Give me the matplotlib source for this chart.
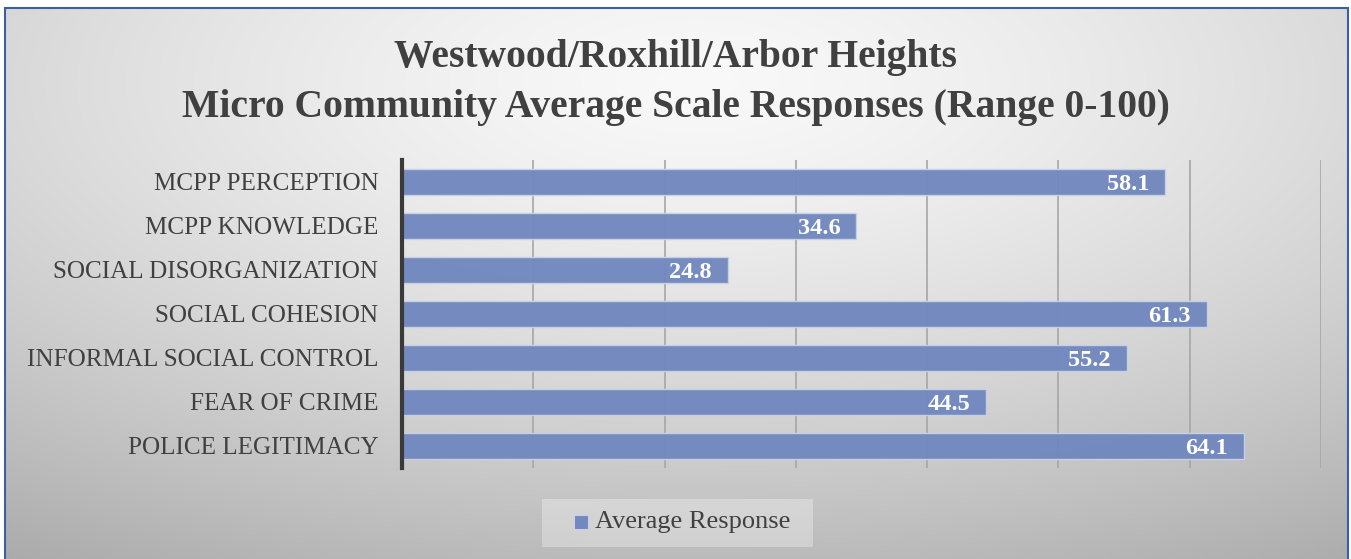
import numpy as np
import matplotlib
matplotlib.use("Agg")
import matplotlib.pyplot as plt
from matplotlib.patches import Rectangle

categories = ["MCPP PERCEPTION", "MCPP KNOWLEDGE", "SOCIAL DISORGANIZATION",
              "SOCIAL COHESION", "INFORMAL SOCIAL CONTROL", "FEAR OF CRIME",
              "POLICE LEGITIMACY"]
values = [58.1, 34.6, 24.8, 61.3, 55.2, 44.5, 64.1]
series_name = "Average Response"
title_lines = ["Westwood/Roxhill/Arbor Heights",
               "Micro Community Average Scale Responses (Range 0-100)"]

W, H = 1351, 559
fig = plt.figure(figsize=(W/100, H/100), dpi=100)
fig.patch.set_facecolor("white")

serif = ["Liberation Serif", "DejaVu Serif"]
bar_color = "#7288BE"
text_color = "#404040"

# background gradient
bg = fig.add_axes([5/W, 0, (1348-5)/W, (H-8)/H])
yy, xx = np.mgrid[0:300, 0:700]
cx, cy = 360, 40
d = np.sqrt(((xx-cx)/700.0)**2 + ((yy-cy)/300.0)**2*0.9)
g = 0.975 - 0.32*np.clip(d, 0, 1)**1.4
img = np.dstack([g, g, g])
bg.imshow(img, aspect="auto", extent=[0, 1, 0, 1], origin="upper")
bg.set_xlim(0, 1); bg.set_ylim(0, 1)
bg.axis("off")

# border
fig.patches.append(Rectangle((5/W, -0.05), (1348-5)/W, 1.05-8/H, transform=fig.transFigure,
                             fill=False, edgecolor="#3A5FA8", linewidth=1.5, zorder=10))

# main axes
left, right, top, bottom = 402, 1321, 160, 468
ax = fig.add_axes([left/W, 1-bottom/H, (right-left)/W, (bottom-top)/H])
ax.set_facecolor("none")
y = np.arange(len(categories))
ax.barh(y, values, height=0.6, color=bar_color, alpha=0.97, edgecolor="#C9D1E8",
        linewidth=1.0, zorder=3)
ax.set_xlim(0, 70)
ax.set_ylim(len(categories)-0.5, -0.5)
ax.set_xticks(np.arange(0, 71, 10))
ax.grid(axis="x", color="#A6A6A6", linewidth=1.2, zorder=1)
ax.tick_params(axis="x", length=0, labelbottom=False)
ax.tick_params(axis="y", length=0, pad=17)
ax.set_yticks(y)
ax.set_yticklabels(categories, fontfamily=serif, fontsize=18.1, color=text_color)
for s in ["top", "right", "bottom"]:
    ax.spines[s].set_visible(False)
ax.spines["left"].set_color("#3A3A3A")
ax.spines["left"].set_linewidth(3)
ax.spines["left"].set_zorder(5)

for yi, v in zip(y, values):
    ax.text(v - 1.2, yi, f"{v:.1f}", ha="right", va="center_baseline", color="white",
            fontfamily=serif, fontweight="bold", fontsize=17.5, zorder=6)

# title
fig.text(676/W, 1-57/H, title_lines[0], ha="center", va="center", fontfamily=serif,
         fontweight="bold", fontsize=28.5, color=text_color)
fig.text(676/W, 1-107/H, title_lines[1], ha="center", va="center", fontfamily=serif,
         fontweight="bold", fontsize=28.5, color=text_color)

# legend
fig.patches.append(Rectangle((542/W, 1-547/H), (813-542)/W, (547-499)/H,
                             transform=fig.transFigure, facecolor="white", alpha=0.3,
                             edgecolor="none", zorder=8))
fig.patches.append(Rectangle((574/W, 1-529/H), 14/W, 14/H, transform=fig.transFigure,
                             facecolor=bar_color, edgecolor="#C9D1E8", linewidth=0.8, zorder=9))
fig.text(595/W, 1-522/H, series_name, ha="left", va="center", fontfamily=serif,
         fontsize=19, color=text_color, zorder=9)

fig.savefig("out.png", dpi=100)
